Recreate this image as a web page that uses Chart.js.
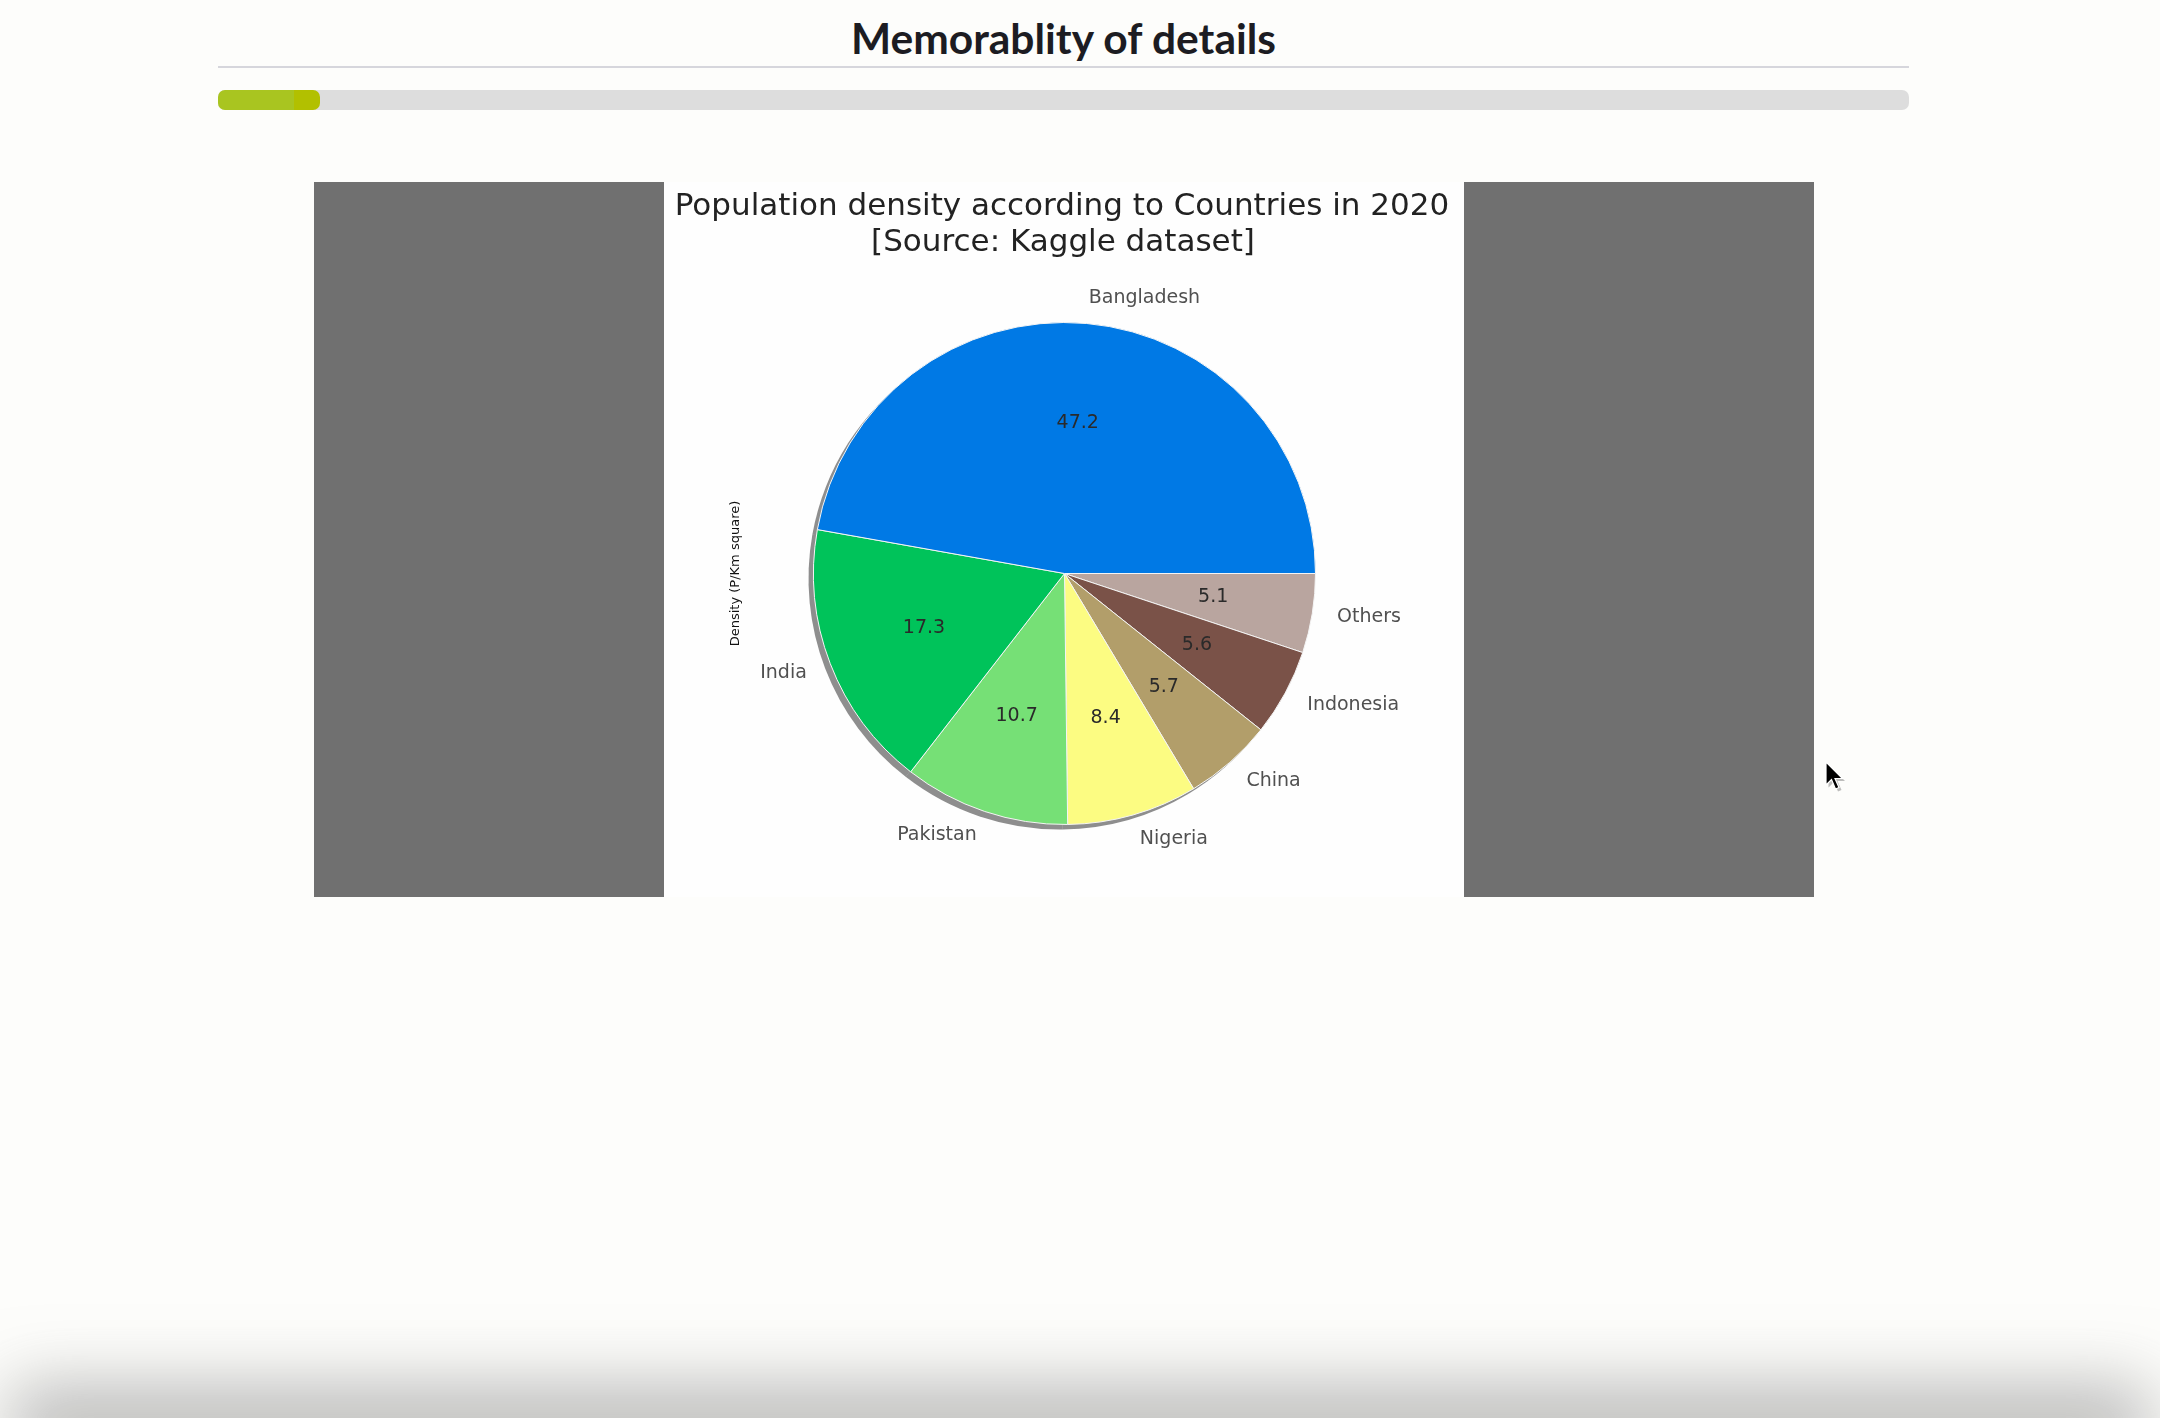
<!DOCTYPE html>
<html>
<head>
<meta charset="utf-8">
<script src="https://cdn.jsdelivr.net/npm/chart.js@4.4.1/dist/chart.umd.min.js"></script>
<style>
html,body{margin:0;padding:0;}
body{width:2160px;height:1418px;background:#fdfdfb;position:relative;overflow:hidden;font-family:Lato,sans-serif;}
.heading{position:absolute;left:218px;width:1691px;top:12px;text-align:center;font-weight:700;font-size:42.5px;color:#1c1c22;}
.rule{position:absolute;left:218px;width:1691px;top:66px;height:2px;background:#d6d6dc;}
.progress{position:absolute;left:218px;width:1691px;top:90px;height:20px;border-radius:7px;background:#dddddd;}
.progress .fill{position:absolute;left:0;top:0;height:20px;width:102px;border-radius:7px;background:linear-gradient(to right,#a9c520 0%,#a9c520 75%,#b2c000 75%,#b2c000 100%);}
.panel{position:absolute;top:182px;height:715px;background:#707070;}
.chartbox{position:absolute;left:664px;top:182px;width:800px;height:715px;background:#fefefe;}
.bottomshade{position:absolute;left:40px;right:40px;top:1418px;height:10px;box-shadow:0 0 70px 30px rgba(120,120,120,0.55);}
.cursor{position:absolute;left:1824px;top:760px;}
</style>
</head>
<body>
<div class="heading">Memorablity of details</div>
<div class="rule"></div>
<div class="progress"><div class="fill"></div></div>
<div class="panel" style="left:314px;width:350px;"></div>
<div class="panel" style="left:1464px;width:350px;"></div>
<div class="chartbox"><canvas id="pie" width="800" height="715"></canvas></div>
<div class="bottomshade"></div>
<svg class="cursor" width="24" height="34" viewBox="0 0 24 34">
<path d="M3,3 L3,26 L8.5,20.5 L12.5,30 L16,28.5 L12,19.5 L19.5,19.5 Z" fill="rgba(0,0,0,0.25)" transform="translate(1.5,1.5)"/>
<path d="M2,2 L2,25 L7.5,19.5 L11.5,29 L15,27.5 L11,18.5 L18.5,18.5 Z" fill="#000" stroke="#fff" stroke-width="1.2"/>
</svg>

<script>
const countries = ["Bangladesh","India","Pakistan","Nigeria","China","Indonesia","Others"];
const density = [47.2, 17.3, 10.7, 8.4, 5.7, 5.6, 5.1];
const sliceColors = ["#0079e5","#00c35a","#76e076","#fcfc82","#b29e6a","#7a5248","#b9a59f"];
const titleLines = ["Population density according to Countries in 2020","[Source: Kaggle dataset]"];
const yLabel = "Density (P/Km square)";

// matplotlib goes counterclockwise from 3 o'clock, chart.js clockwise -> reverse
const labelsCw = countries.slice().reverse();
const valuesCw = density.slice().reverse();
const colorsCw = sliceColors.slice().reverse();

const shadowPlugin = {
  id: "shadow",
  beforeDatasetsDraw(chart){
    const arcs = chart.getDatasetMeta(0).data;
    if(!arcs.length) return;
    const ctx = chart.ctx;
    ctx.save();
    ctx.fillStyle = "rgba(30,30,30,0.5)";
    arcs.forEach(a => {
      const p = a.getProps(["x","y","startAngle","endAngle","outerRadius"]);
      ctx.beginPath();
      ctx.moveTo(p.x - 5, p.y + 5);
      ctx.arc(p.x - 5, p.y + 5, p.outerRadius, p.startAngle, p.endAngle);
      ctx.closePath();
      ctx.fill();
    });
    ctx.restore();
  }
};

const textPlugin = {
  id: "pieText",
  afterDatasetsDraw(chart){
    const ctx = chart.ctx;
    const arcs = chart.getDatasetMeta(0).data;
    ctx.save();
    ctx.font = "19px 'DejaVu Sans'";
    ctx.textBaseline = "middle";
    arcs.forEach((a, i) => {
      const p = a.getProps(["x","y","startAngle","endAngle","outerRadius"]);
      const mid = (p.startAngle + p.endAngle) / 2;
      const c = Math.cos(mid), s = Math.sin(mid);
      // category label at 1.1 r
      ctx.fillStyle = "#505050";
      ctx.textAlign = c > 0 ? "left" : "right";
      ctx.fillText(labelsCw[i], p.x + 1.1 * p.outerRadius * c, p.y + 1.1 * p.outerRadius * s);
      // value at 0.6 r
      ctx.fillStyle = "#2a2a2a";
      ctx.textAlign = "center";
      ctx.fillText(valuesCw[i].toFixed(1), p.x + 0.6 * p.outerRadius * c, p.y + 0.6 * p.outerRadius * s);
    });

    // title
    ctx.fillStyle = "#222222";
    ctx.font = "31px 'DejaVu Sans'";
    ctx.textAlign = "center";
    ctx.fillText(titleLines[0], 398, 25);
    ctx.fillText(titleLines[1], 399, 61);

    // y label
    const cy = arcs.length ? arcs[0].y : 391;
    ctx.font = "13px 'DejaVu Sans'";
    ctx.fillStyle = "#111111";
    ctx.translate(72, cy);
    ctx.rotate(-Math.PI / 2);
    ctx.fillText(yLabel, 0, 0);
    ctx.restore();
  }
};

new Chart(document.getElementById("pie"), {
  type: "pie",
  data: {
    labels: labelsCw,
    datasets: [{
      data: valuesCw,
      backgroundColor: colorsCw,
      borderColor: "#f4f4f4",
      borderWidth: 1
    }]
  },
  options: {
    responsive: false,
    animation: false,
    rotation: 90,
    layout: {padding: {left: 149, right: 148, top: 140, bottom: 72}},
    plugins: {
      legend: {display: false},
      tooltip: {enabled: false},
      title: {display: false}
    }
  },
  plugins: [shadowPlugin, textPlugin]
});
</script>
</body>
</html>
